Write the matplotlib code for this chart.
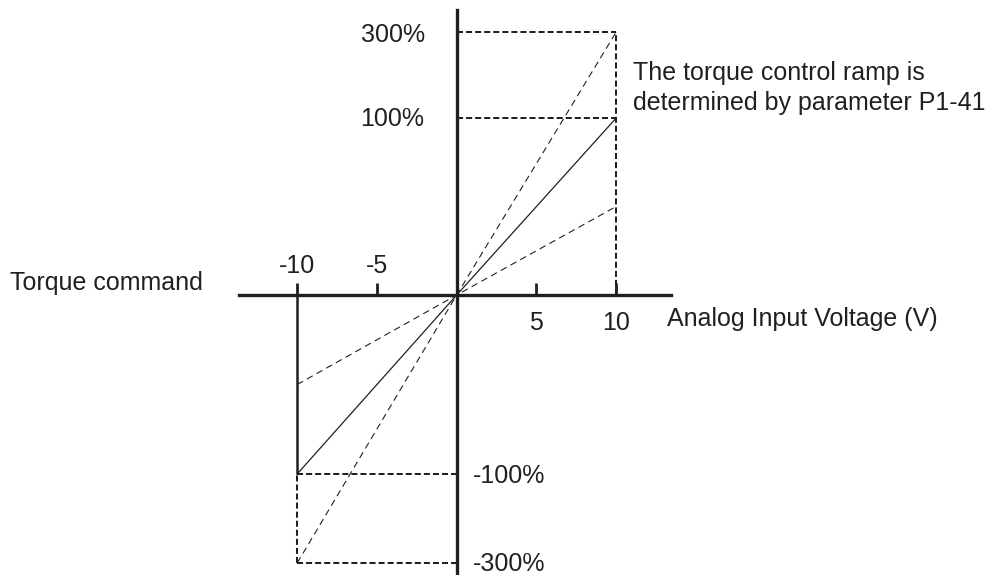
import numpy as np
import matplotlib
matplotlib.use("Agg")
import matplotlib.pyplot as plt

plt.rcParams['font.family'] = ['Liberation Sans', 'DejaVu Sans']

# ---- data ----
voltage = [-10, 0, 10]
torque_ramp_100 = [-100, 0, 100]
torque_ramp_300 = [-300, 0, 300]
torque_ramp_50 = [-50, 0, 50]
x_ticks = [-10, -5, 5, 10]
x_tick_labels = ['-10', '-5', '5', '10']
y_ticks = [300, 100, -100, -300]
y_tick_labels = ['300%', '100%', '-100%', '-300%']
x_label = 'Analog Input Voltage (V)'
y_label = 'Torque command'
note_lines = ['The torque control ramp is', 'determined by parameter P1-41']

INK = '#231f20'
W, H = 1002, 575

# schematic (non-linear) vertical scale: value -> pixels from origin
Y_VAL = [-1000, -300, -100, 0, 100, 300, 1000]
Y_PIX = [-579.5, -268, -179, 0, 177, 263, 564]

def fwd(v):
    return np.interp(v, Y_VAL, Y_PIX)

def inv(p):
    return np.interp(p, Y_PIX, Y_VAL)

fig = plt.figure(figsize=(W / 100, H / 100), dpi=100)
ax = fig.add_axes([0, 0, 1, 1])
ax.set_yscale('function', functions=(fwd, inv))
PX = 15.95
X0 = 456.7
ax.set_xlim(-X0 / PX, (W - X0) / PX)
Y0 = 295
ax.set_ylim(float(inv(-(H - Y0))), float(inv(Y0)))
ax.patch.set_alpha(0)

# axes through the origin
for s in ['top', 'right']:
    ax.spines[s].set_visible(False)
ax.spines['left'].set_position(('data', 0))
ax.spines['bottom'].set_position(('data', 0))
ax.spines['bottom'].set_bounds((239 - X0) / PX, (671 - X0) / PX)
ax.spines['left'].set_bounds(float(inv(-(H - Y0) - 5)), float(inv(Y0 - 10)))
for s in ['left', 'bottom']:
    ax.spines[s].set_linewidth(2.4)
    ax.spines[s].set_color(INK)
ax.set_xticks(x_ticks)
ax.tick_params(axis='x', direction='in', length=8.8, width=2.0, color=INK,
               labelbottom=False)
ax.set_yticks([])

pix = lambda p: 1 - p / H  # pixel row -> axes fraction

# reference frame lines
box = dict(color=INK, lw=1.45, linestyle=(0, (3, 1.5)))
ax.hlines([y_ticks[0], y_ticks[1]], 0, voltage[-1], **box)
ax.hlines([y_ticks[2], y_ticks[3]], voltage[0], 0, **box)
ax.vlines(voltage[-1], 0, y_ticks[0], **box)
ax.vlines(voltage[0], y_ticks[3], y_ticks[2], **box)
ax.vlines(voltage[0], y_ticks[2], 0, color=INK, lw=1.8)

# ramps
ax.plot(voltage, torque_ramp_100, color=INK, lw=0.9)
ax.plot(voltage, torque_ramp_300, color=INK, lw=0.8, linestyle=(0, (6, 4)))
ax.plot(voltage, torque_ramp_50, color=INK, lw=0.8, linestyle=(0, (6, 4)))

FS = 18
xt = ax.get_xaxis_transform()
for v, lab in zip(x_ticks, x_tick_labels):
    yb = 273 if v < 0 else 330
    ax.text(v, pix(yb), lab, transform=xt, ha='center', va='baseline',
            fontsize=FS, color=INK)

yb_map = {300: (425, 42, 'right'), 100: (424, 126, 'right'),
          -100: (473, 483, 'left'), -300: (473, 571, 'left')}
for v, lab in zip(y_ticks, y_tick_labels):
    xp, yb, ha = yb_map[v]
    ax.text(xp / W, pix(yb), lab, transform=ax.transAxes, ha=ha,
            va='baseline', fontsize=FS, color=INK)

ax.text(667 / W, pix(326), x_label, transform=ax.transAxes, ha='left',
        va='baseline', fontsize=FS, color=INK)
ax.text(10 / W, pix(290), y_label, transform=ax.transAxes, ha='left',
        va='baseline', fontsize=FS, color=INK)
for i, line in enumerate(note_lines):
    ax.text(633 / W, pix(80 + 30 * i), line, transform=ax.transAxes,
            ha='left', va='baseline', fontsize=FS, color=INK)

fig.savefig('out.png', dpi=100)
